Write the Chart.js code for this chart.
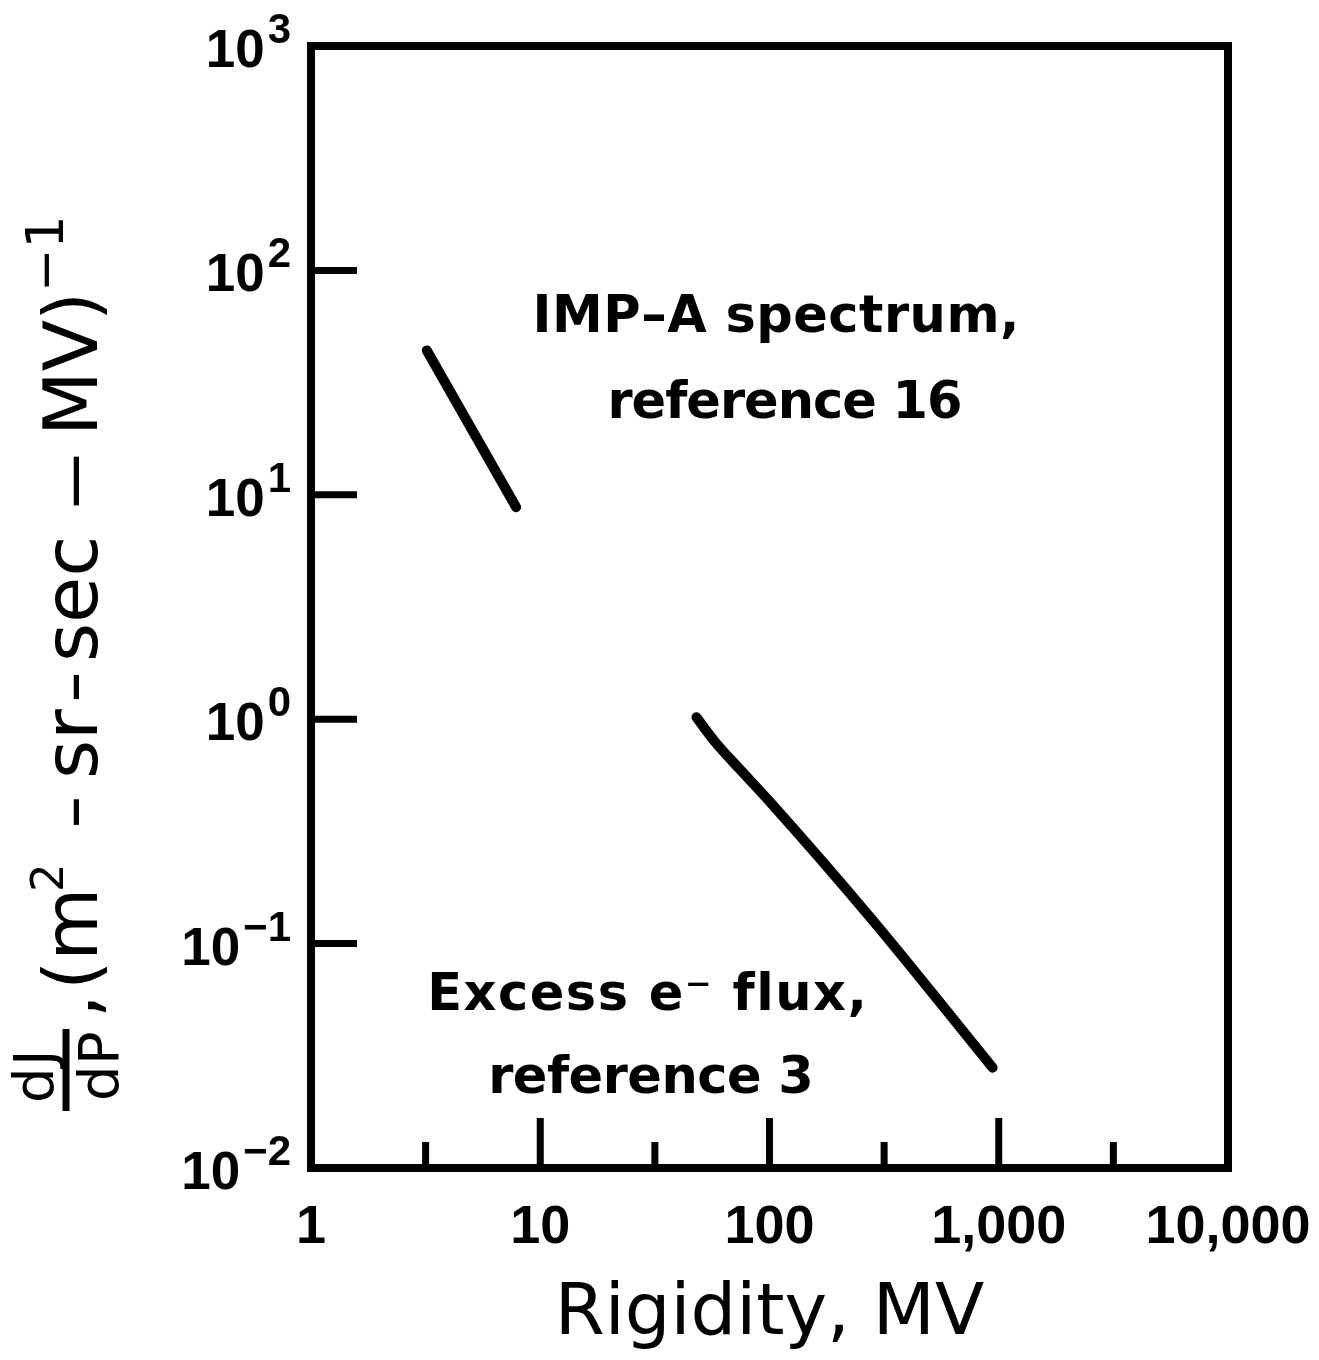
<!DOCTYPE html>
<html><head><meta charset="utf-8">
<script src="https://cdn.jsdelivr.net/npm/chart.js@4.4.0/dist/chart.umd.min.js"></script>
<style>html,body{margin:0;padding:0;background:#fff;} canvas{display:block;}</style>
</head><body>
<canvas id="c" width="1319" height="1360"></canvas>
<script>
// ---- data ----
const impRigidity = [3.2, 7.85];
const impFlux = [44, 8.8];
const excessRigidity = [48, 58, 74, 100, 280, 940];
const excessFlux = [1.02, 0.79, 0.60, 0.43, 0.128, 0.028];
const xTickValues = [1, 3.162, 10, 31.62, 100, 316.2, 1000, 3162, 10000];
const xMajorTicks = [1, 10, 100, 1000, 10000];
const xTickLabels = ['1', '10', '100', '1,000', '10,000'];
const yTickValues = [0.01, 0.1, 1, 10, 100, 1000];
const yTickExponents = ['\u22122', '\u22121', '0', '1', '2', '3'];
const xTitle = 'Rigidity, MV';
const annotationLines = ['IMP\u2013A spectrum,', 'reference 16', 'Excess e\u207B flux,', 'reference 3'];

const toPoints = (xs, ys) => xs.map((x, i) => ({x: x, y: ys[i]}));

function spacedText(ctx, text, center, base, extra) {
  const chars = Array.from(text);
  const widths = chars.map(c => ctx.measureText(c).width);
  const sum = widths.reduce((a, b) => a + b, 0) + extra * (chars.length - 1);
  let x = center - sum / 2;
  chars.forEach((c, i) => { ctx.fillText(c, x, base); x += widths[i] + extra; });
}

function rotText(ctx, text, bx, startY, font, align, sx) {
  ctx.save();
  ctx.translate(bx, startY);
  ctx.rotate(-Math.PI / 2);
  if (sx) ctx.scale(sx, 1);
  ctx.font = font;
  ctx.textAlign = align || 'left';
  ctx.textBaseline = 'alphabetic';
  ctx.fillText(text, 0, 0);
  ctx.restore();
}

const framePlugin = {
  id: 'frame',
  afterDraw(chart) {
    const ctx = chart.ctx, a = chart.chartArea, xs = chart.scales.x, ys = chart.scales.y;
    ctx.save();
    ctx.strokeStyle = '#000'; ctx.fillStyle = '#000';
    // frame
    ctx.lineWidth = 8; ctx.lineJoin = 'miter';
    ctx.strokeRect(a.left, a.top, a.right - a.left, a.bottom - a.top);
    // inward ticks
    ctx.lineWidth = 7; ctx.lineCap = 'butt';
    xs.ticks.forEach(t => {
      if (t.value <= xs.min || t.value >= xs.max) return;
      const px = xs.getPixelForValue(t.value);
      const len = xMajorTicks.includes(t.value) ? 50 : 26;
      ctx.beginPath(); ctx.moveTo(px, a.bottom); ctx.lineTo(px, a.bottom - len); ctx.stroke();
    });
    ys.ticks.forEach(t => {
      if (t.value <= ys.min || t.value >= ys.max) return;
      const py = ys.getPixelForValue(t.value);
      ctx.beginPath(); ctx.moveTo(a.left, py); ctx.lineTo(a.left + 46, py); ctx.stroke();
    });
    // y tick labels 10^n
    ctx.textAlign = 'left'; ctx.textBaseline = 'alphabetic';
    const baseFont = 'bold 53px "Liberation Sans"', expFont = 'bold 42px "Liberation Sans"';
    ys.ticks.forEach(t => {
      const i = yTickValues.indexOf(t.value);
      if (i < 0) return;
      const py = ys.getPixelForValue(t.value);
      ctx.font = baseFont;
      const wb = ctx.measureText('10').width;
      ctx.font = expFont;
      const we = ctx.measureText(yTickExponents[i]).width;
      const x0 = a.left - 20 - (wb + 3 + we);
      ctx.font = baseFont;
      ctx.fillText('10', x0, py + 21);
      ctx.font = expFont;
      ctx.fillText(yTickExponents[i], x0 + wb + 3, py - 3);
    });
    // y axis title (rotated)
    const F = '"DejaVu Sans"';
    rotText(ctx, 'd', 53, 1103, '56px ' + F);
    rotText(ctx, 'J', 53, 1066, '56px ' + F);
    rotText(ctx, 'd', 118, 1101, '56px ' + F);
    rotText(ctx, 'P', 118, 1065, '56px ' + F);
    ctx.lineWidth = 7;
    ctx.beginPath(); ctx.moveTo(66, 1029); ctx.lineTo(66, 1111); ctx.stroke();
    rotText(ctx, ',', 97, 1018, '75px ' + F);
    rotText(ctx, '(m', 97, 990, '75px ' + F);
    rotText(ctx, '2', 63, 892, '45px ' + F);
    rotText(ctx, '\u2013', 97, 828, '75px ' + F, 'left', 0.85);
    rotText(ctx, 'sr', 97, 779, '75px ' + F);
    rotText(ctx, '\u2013', 97, 702, '75px ' + F, 'left', 0.8);
    rotText(ctx, 'sec', 97, 662, '75px ' + F);
    rotText(ctx, '\u2014', 97, 508, '75px ' + F, 'left', 0.72);
    rotText(ctx, 'MV', 97, 436, '75px ' + F);
    rotText(ctx, ')', 97, 321, '75px ' + F);
    rotText(ctx, '\u22121', 63, 292, '52px ' + F);
    // annotations
    ctx.font = 'bold 51px "DejaVu Sans"';
    ctx.textAlign = 'left';
    spacedText(ctx, annotationLines[0], 776, 332, 0.5);
    spacedText(ctx, annotationLines[1], 785, 418, -1);
    spacedText(ctx, annotationLines[2], 647, 1010, 1.5);
    spacedText(ctx, annotationLines[3], 651, 1093, -0.5);
    ctx.restore();
  }
};

new Chart(document.getElementById('c'), {
  type: 'scatter',
  data: {
    datasets: [
      { label: 'IMP-A spectrum, reference 16', data: toPoints(impRigidity, impFlux), showLine: true,
        borderColor: '#000', borderWidth: 10, pointRadius: 0, borderCapStyle: 'round', borderJoinStyle: 'round', tension: 0 },
      { label: 'Excess e- flux, reference 3', data: toPoints(excessRigidity, excessFlux), showLine: true,
        borderColor: '#000', borderWidth: 10, pointRadius: 0, borderCapStyle: 'round', borderJoinStyle: 'round',
        cubicInterpolationMode: 'monotone' }
    ]
  },
  options: {
    responsive: false, animation: false, devicePixelRatio: 1,
    layout: { padding: { left: 0, top: 46, right: 91, bottom: 0 } },
    plugins: { legend: { display: false }, tooltip: { enabled: false } },
    scales: {
      x: {
        type: 'logarithmic', min: 1, max: 10000, position: 'bottom',
        afterBuildTicks: s => { s.ticks = xTickValues.map(v => ({ value: v })); },
        afterFit: s => { s.height = 192; s.paddingLeft = 0; s.paddingRight = 0; },
        grid: { display: false, drawTicks: false }, border: { display: false },
        ticks: {
          autoSkip: false, maxRotation: 0, minRotation: 0, padding: 28, color: '#000',
          font: { family: '"Liberation Sans"', size: 54, weight: 'bold' },
          callback: v => { const i = xMajorTicks.indexOf(v); return i >= 0 ? xTickLabels[i] : ''; }
        },
        title: { display: true, text: xTitle, color: '#000', font: { family: '"DejaVu Sans"', size: 72 }, padding: { top: 0, bottom: 2 } }
      },
      y: {
        type: 'logarithmic', min: 0.01, max: 1000, position: 'left',
        afterBuildTicks: s => { s.ticks = yTickValues.map(v => ({ value: v })); },
        afterFit: s => { s.width = 311; s.paddingTop = 0; s.paddingBottom = 0; },
        grid: { display: false }, border: { display: false }, ticks: { display: false }
      }
    }
  },
  plugins: [framePlugin]
});
</script>
</body></html>
